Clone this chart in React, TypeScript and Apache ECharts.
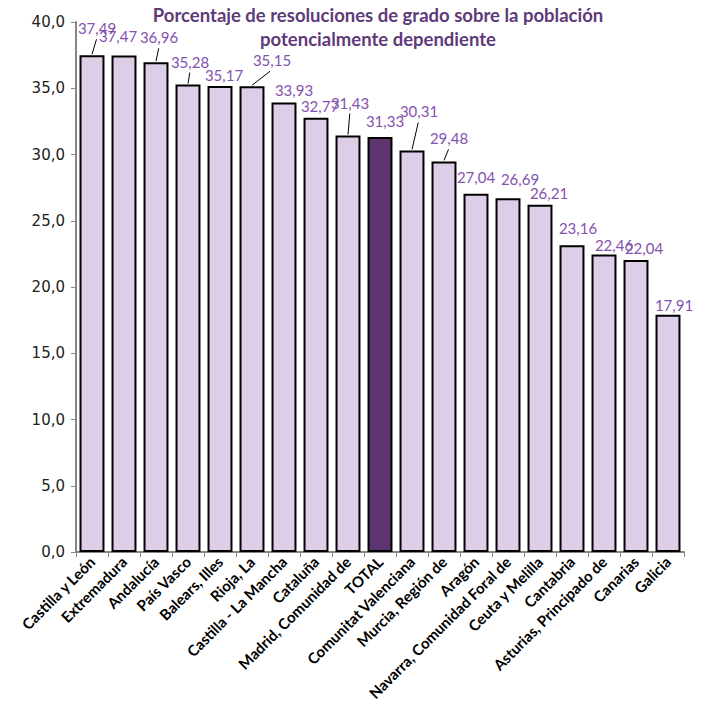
import React, { useEffect, useRef } from "react";
import * as echarts from "echarts";

const categories = [
  "Castilla y León",
  "Extremadura",
  "Andalucía",
  "País Vasco",
  "Balears, Illes",
  "Rioja, La",
  "Castilla - La Mancha",
  "Cataluña",
  "Madrid, Comunidad de",
  "TOTAL",
  "Comunitat Valenciana",
  "Murcia, Región de",
  "Aragón",
  "Navarra, Comunidad Foral de",
  "Ceuta y Melilla",
  "Cantabria",
  "Asturias, Principado de",
  "Canarias",
  "Galicia",
];

const values = [
  37.49, 37.47, 36.96, 35.28, 35.17, 35.15, 33.93, 32.77, 31.43, 31.33, 30.31,
  29.48, 27.04, 26.69, 26.21, 23.16, 22.46, 22.04, 17.91,
];

const highlightCategory = "TOTAL";

const titleLines = [
  "Porcentaje de resoluciones de grado sobre la población",
  "potencialmente dependiente",
];

const yTicks = { min: 0, max: 40, interval: 5 };

// label nudges (style only): [dx, dy, showLeaderLine]
const labelNudges: [number, number, boolean][] = [
  [5, -15, true],
  [-6, -8, false],
  [3, -13, true],
  [2, -11, true],
  [4, 1, false],
  [20, -14, true],
  [10, 0, false],
  [4, 0, false],
  [2, -21, true],
  [5, -4, false],
  [7, -27, true],
  [5, -11, true],
  [0, -5, false],
  [12, -7, false],
  [9, 0, false],
  [6, -5, false],
  [10, 3, false],
  [8, 0, false],
  [6, 2, false],
];

export default function App() {
  const ref = useRef<HTMLDivElement>(null);

  useEffect(() => {
    document.body.style.margin = "0";
    if (!ref.current) return;
    const chart = echarts.init(ref.current, undefined, { renderer: "svg" });

    const data = values.map((v, i) => {
      const isTotal = categories[i] === highlightCategory;
      return {
        value: v,
        itemStyle: { color: isTotal ? "#5C3571" : "#DDCDE7" },
      };
    });

    const leaderData = values
      .map((v, i) => [i, v])
      .filter((_, i) => labelNudges[i][2]);

    chart.setOption({
      animation: false,
      grid: { left: 76, right: 18, top: 22, bottom: 166, containLabel: false },
      graphic: [
        {
          type: "text",
          x: 378,
          y: 3,
          style: {
            text: titleLines.join("\n"),
            font: "bold 18.5px Lato",
            lineHeight: 24,
            fill: "#5E3A79",
            textAlign: "center",
          },
        },
      ],
      xAxis: {
        type: "category",
        data: categories,
        axisLine: { lineStyle: { color: "#868686", width: 2 } },
        axisTick: { show: true, length: 5, lineStyle: { color: "#868686", width: 1 } },
        axisLabel: {
          interval: 0,
          rotate: 45,
          margin: 7,
          fontFamily: "Lato",
          fontWeight: "bold",
          fontSize: 15,
          color: "#000",
        },
      },
      yAxis: {
        type: "value",
        min: yTicks.min,
        max: yTicks.max,
        interval: yTicks.interval,
        splitLine: { show: false },
        axisLine: { show: true, lineStyle: { color: "#868686", width: 2 } },
        axisTick: { show: true, length: 5, lineStyle: { color: "#868686", width: 1 } },
        axisLabel: {
          fontFamily: "DejaVu Sans",
          fontSize: 15,
          color: "#222",
          margin: 11,
          formatter: (v: number) => v.toFixed(1).replace(".", ","),
        },
      },
      series: [
        {
          type: "bar",
          data,
          barWidth: "78%",
          itemStyle: { borderColor: "#000", borderWidth: 2 },
          label: {
            show: true,
            position: "top",
            distance: 5,
            fontFamily: "Lato",
            fontSize: 15,
            lineHeight: 14,
            color: "#8452AE",
            formatter: (p: any) => p.value.toFixed(2).replace(".", ","),
          },
          labelLayout: (p: any) => ({
            dx: labelNudges[p.dataIndex][0],
            dy: labelNudges[p.dataIndex][1],
          }),
          z: 2,
        },
        {
          type: "custom",
          data: leaderData,
          silent: true,
          z: 3,
          renderItem: (params: any, api: any) => {
            const i = api.value(0);
            const v = api.value(1);
            const p = api.coord([i, v]);
            const [dx, dy] = labelNudges[i];
            return {
              type: "line",
              shape: {
                x1: p[0],
                y1: p[1] - 1,
                x2: p[0] + dx * 0.9,
                y2: p[1] - 5 + dy + 4,
              },
              style: { stroke: "#000", lineWidth: 1 },
            };
          },
        },
      ],
    });

    return () => chart.dispose();
  }, []);

  return <div ref={ref} style={{ width: 702, height: 718 }} />;
}
